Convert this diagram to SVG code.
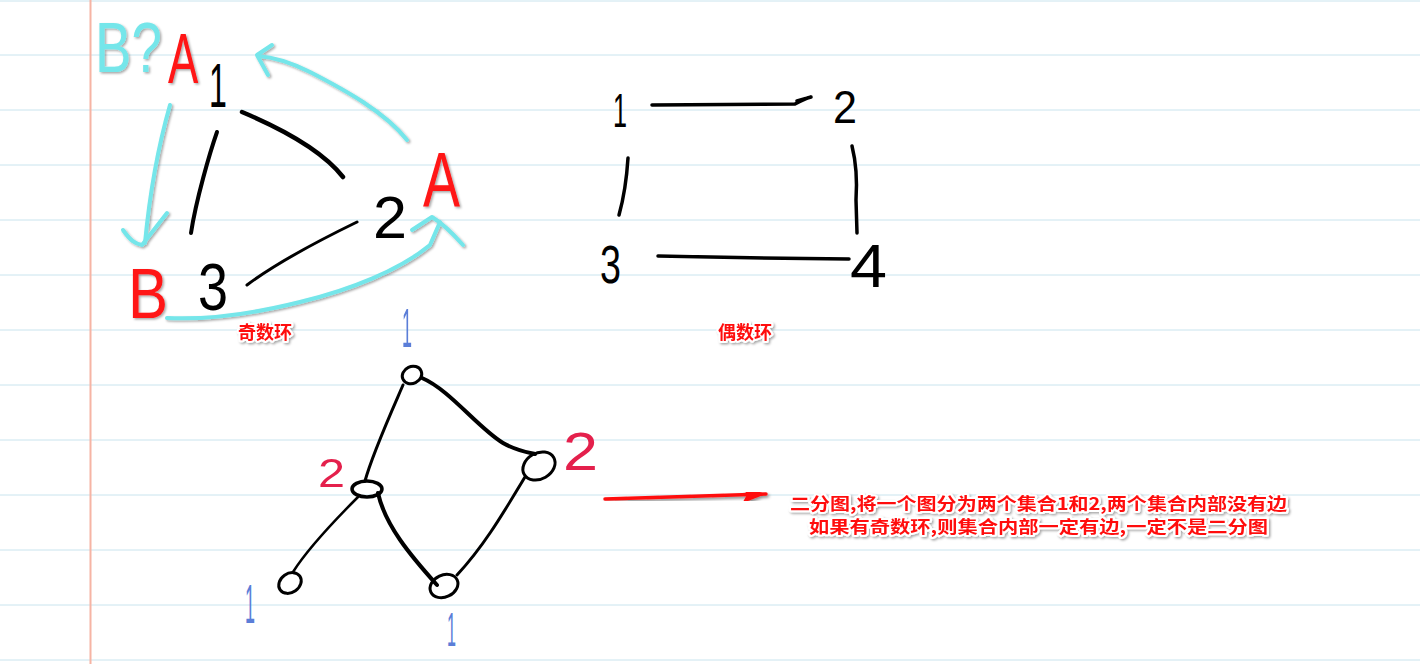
<svg xmlns="http://www.w3.org/2000/svg" width="1420" height="664" viewBox="0 0 1420 664">
<defs>
<style>
.rule{stroke:#c9e4ee;stroke-width:1}
.ink{fill:none;stroke:#000;stroke-linecap:round;stroke-linejoin:round}
.cyan{fill:none;stroke:#74e6ea;stroke-width:4;stroke-linecap:round;stroke-linejoin:round}
.hand{font-family:"Liberation Sans",Arial,sans-serif}
.blk{fill:#000}
.red{fill:#ff1414}
.crim{fill:#e4204c}
.blue{fill:#5b7ed8}
.cy{fill:#74e6ea}
.note{font-family:"Noto Sans CJK SC","Liberation Sans",sans-serif;font-weight:bold;fill:#ff1010;stroke:#fff;stroke-width:4;paint-order:stroke;stroke-linejoin:round}
</style>
<filter id="sh" x="-20%" y="-20%" width="140%" height="140%">
<feDropShadow dx="1.5" dy="1.5" stdDeviation="1.2" flood-color="#000" flood-opacity="0.35"/>
</filter>
<filter id="sh2" x="-10%" y="-30%" width="120%" height="160%">
<feDropShadow dx="1.5" dy="2" stdDeviation="1.5" flood-color="#000" flood-opacity="0.45"/>
</filter>
<marker id="redhead" markerUnits="userSpaceOnUse" markerWidth="26" markerHeight="20" refX="24" refY="10" orient="auto">
<path d="M0,1.5 L24,10 L0,18.5 L5,10 Z" fill="#ff1010"/>
</marker>
</defs>
<rect width="1420" height="664" fill="#fff"/>
<g id="paper">
<line class="rule" x1="0" y1="1" x2="1420" y2="1"/>
<line class="rule" x1="0" y1="55" x2="1420" y2="55"/>
<line class="rule" x1="0" y1="110" x2="1420" y2="110"/>
<line class="rule" x1="0" y1="165" x2="1420" y2="165"/>
<line class="rule" x1="0" y1="220" x2="1420" y2="220"/>
<line class="rule" x1="0" y1="275" x2="1420" y2="275"/>
<line class="rule" x1="0" y1="330" x2="1420" y2="330"/>
<line class="rule" x1="0" y1="385" x2="1420" y2="385"/>
<line class="rule" x1="0" y1="440" x2="1420" y2="440"/>
<line class="rule" x1="0" y1="495" x2="1420" y2="495"/>
<line class="rule" x1="0" y1="550" x2="1420" y2="550"/>
<line class="rule" x1="0" y1="605" x2="1420" y2="605"/>
<line class="rule" x1="0" y1="660" x2="1420" y2="660"/>
<line x1="90.5" y1="0" x2="90.5" y2="664" stroke="#f6b4a4" stroke-width="2"/>
</g>
<g id="connectors">
<path class="ink" stroke-width="4.5" d="M242,112 C280,128 322,150 343,177"/>
<path class="ink" stroke-width="4" d="M217,132 C210,152 196,200 191,233"/>
<path class="ink" stroke-width="3" d="M357,222 C320,240 275,264 247,285"/>
<path class="ink" stroke-width="3.5" d="M652,105 L795,104 Q806,98 811,97 L797,101"/>
<path class="ink" stroke-width="3.5" d="M628,158 Q626,190 619,215"/>
<path class="ink" stroke-width="3.5" d="M852,146 Q858,170 856,200 L857,233"/>
<path class="ink" stroke-width="3.5" d="M658,256 Q750,258 849,259"/>
<path class="ink" stroke-width="3" d="M403,385 C390,415 372,455 365,481"/>
<path class="ink" stroke-width="4" d="M422,378 C450,390 478,428 503,443 C515,450 526,452 535,454"/>
<path class="ink" stroke-width="2.5" d="M358,497 C330,525 305,553 293,572"/>
<path class="ink" stroke-width="4" d="M378,493 C385,525 410,555 437,585"/>
<path class="ink" stroke-width="3" d="M525,477 C505,510 485,545 457,575"/>
<g filter="url(#sh)">
<path class="cyan" d="M407,140 C385,112 345,90 310,72 C290,62 272,57 258,56"/>
<path class="cyan" d="M272,45 L257,55 L268,75"/>
<path class="cyan" d="M170,105 C160,140 150,190 145,243"/>
<path class="cyan" d="M123,230 C130,240 135,244 142,245 L167,213"/>
<path class="cyan" d="M167,318 C210,320 260,312 300,302 C350,290 400,270 430,245 L440,222"/>
<path class="cyan" d="M412,230 L432,217 C445,225 455,236 463,245"/>
</g>
<g filter="url(#sh2)">
<line x1="605" y1="499" x2="766" y2="494" stroke="#ff1010" stroke-width="3.5" stroke-linecap="round" marker-end="url(#redhead)"/>
</g>
</g>
<g id="odd-cycle">
<g id="odd-1"><text class="hand blk" x="0" y="0" font-size="63" transform="translate(209 107) scale(0.51 1)">1</text></g>
<g id="odd-2"><text class="hand blk" x="373" y="238" font-size="60" textLength="34" lengthAdjust="spacingAndGlyphs">2</text></g>
<g id="odd-3"><text class="hand blk" x="198" y="310" font-size="66" textLength="30" lengthAdjust="spacingAndGlyphs">3</text></g>
<g filter="url(#sh)">
<text class="hand red" x="0" y="0" font-size="71" transform="translate(168 83) scale(0.64 1)">A</text>
<text class="hand red" x="423" y="207" font-size="77" textLength="37" lengthAdjust="spacingAndGlyphs">A</text>
<text class="hand red" x="128" y="318" font-size="71" textLength="40" lengthAdjust="spacingAndGlyphs">B</text>
<text class="hand cy" x="0" y="0" font-size="70" transform="translate(95 72) scale(0.78 1)">B?</text>
</g>
<g id="odd-label" filter="url(#sh)"><text class="note" x="265" y="339" font-size="18" text-anchor="middle">奇数环</text></g>
</g>
<g id="even-cycle">
<g id="even-1"><text class="hand blk" x="613" y="127" font-size="49" textLength="14" lengthAdjust="spacingAndGlyphs">1</text></g>
<g id="even-2"><text class="hand blk" x="833" y="123" font-size="46" textLength="24" lengthAdjust="spacingAndGlyphs">2</text></g>
<g id="even-3"><text class="hand blk" x="600" y="283" font-size="53" textLength="21" lengthAdjust="spacingAndGlyphs">3</text></g>
<g id="even-4"><text class="hand blk" x="850" y="287" font-size="62" textLength="37" lengthAdjust="spacingAndGlyphs">4</text></g>
<g id="even-label" filter="url(#sh)"><text class="note" x="745" y="339" font-size="18" text-anchor="middle">偶数环</text></g>
</g>
<g id="bipartite">
<g id="bp-top">
<ellipse class="ink" stroke-width="3" cx="412" cy="375" rx="10" ry="8.5" transform="rotate(-25 412 375)"/>
<text class="hand blue" x="402" y="347" font-size="56" textLength="10" lengthAdjust="spacingAndGlyphs">1</text>
</g>
<g id="bp-left">
<ellipse class="ink" stroke-width="3.5" cx="367" cy="489" rx="15" ry="8"/>
<text class="hand crim" x="318" y="487" font-size="40" textLength="27" lengthAdjust="spacingAndGlyphs">2</text>
</g>
<g id="bp-right">
<ellipse class="ink" stroke-width="3" cx="539" cy="466" rx="17" ry="13" transform="rotate(-30 539 466)"/>
<text class="hand crim" x="563" y="470" font-size="53" textLength="35" lengthAdjust="spacingAndGlyphs">2</text>
</g>
<g id="bp-bottom-left">
<ellipse class="ink" stroke-width="3" cx="290" cy="583" rx="12" ry="9.5" transform="rotate(-35 290 583)"/>
<text class="hand blue" x="245" y="623" font-size="56" textLength="10" lengthAdjust="spacingAndGlyphs">1</text>
</g>
<g id="bp-bottom-mid">
<ellipse class="ink" stroke-width="3" cx="444" cy="586" rx="14.5" ry="11" transform="rotate(-25 444 586)"/>
<text class="hand blue" x="447" y="646" font-size="48" textLength="9" lengthAdjust="spacingAndGlyphs">1</text>
</g>
</g>
<g id="note" filter="url(#sh)">
<text class="note" x="790" y="510" font-size="17" textLength="497" lengthAdjust="spacingAndGlyphs">二分图,将一个图分为两个集合1和2,两个集合内部没有边</text>
<text class="note" x="809" y="533" font-size="17" textLength="459" lengthAdjust="spacingAndGlyphs">如果有奇数环,则集合内部一定有边,一定不是二分图</text>
</g>
</svg>
